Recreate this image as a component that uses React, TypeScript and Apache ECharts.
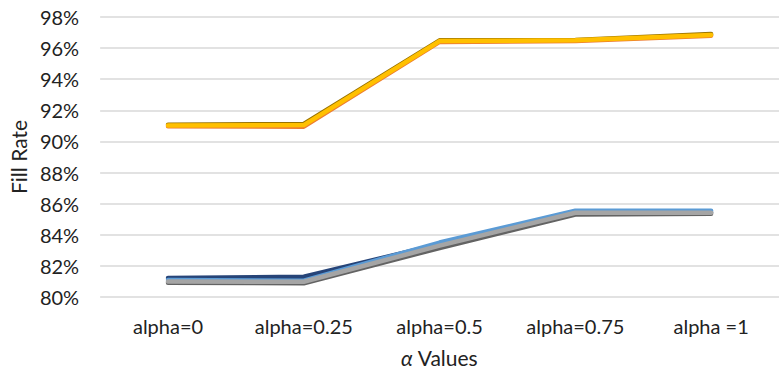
import React, { useEffect, useRef } from "react";
import * as echarts from "echarts";

const categories = ["alpha=0", "alpha=0.25", "alpha=0.5", "alpha=0.75", "alpha =1"];
const yTicks = [80, 82, 84, 86, 88, 90, 92, 94, 96, 98];

const darkYellowSeries = [91.08, 91.12, 96.5, 96.52, 96.9];
const orangeSeries = [90.98, 90.95, 96.4, 96.45, 96.8];
const yellowSeries = [91.03, 91.05, 96.45, 96.5, 96.85];

const darkBlueSeries = [81.22, 81.3, 83.4, 85.5, 85.45];
const lightBlueSeries = [81.1, 81.05, 83.5, 85.55, 85.55];
const darkGraySeries = [80.92, 80.88, 83.15, 85.3, 85.35];
const graySeries = [81.0, 80.98, 83.3, 85.42, 85.42];

const FONT = "Lato, 'Noto Sans', sans-serif";

export default function App() {
  const ref = useRef<HTMLDivElement>(null);
  useEffect(() => {
    if (!ref.current) return;
    const chart = echarts.init(ref.current, undefined, { renderer: "svg" });
    const mk = (name: string, data: number[], color: string, width: number) => ({
      name,
      type: "line",
      data,
      symbol: "none",
      lineStyle: { color, width, cap: "round", join: "round" },
      itemStyle: { color },
      z: 2,
    });
    chart.setOption({
      animation: false,
      backgroundColor: "#ffffff",
      grid: { left: 92, right: 0, top: 17, bottom: 77 },
      xAxis: {
        type: "category",
        data: categories,
        boundaryGap: true,
        axisLine: { show: false },
        axisTick: { show: false },
        axisLabel: { color: "#222", fontSize: 20, fontFamily: FONT, margin: 19 },
        name: "{a|α} Values",
        nameLocation: "middle",
        nameGap: 50,
        nameTextStyle: {
          color: "#222",
          fontSize: 21,
          fontFamily: FONT,
          rich: {
            a: { fontStyle: "italic", fontSize: 21, fontFamily: FONT, color: "#222" },
          },
        },
      },
      yAxis: {
        type: "value",
        min: yTicks[0],
        max: yTicks[yTicks.length - 1],
        interval: 2,
        axisLine: { show: false },
        axisTick: { show: false },
        axisLabel: {
          color: "#222",
          fontSize: 20,
          fontFamily: FONT,
          margin: 21,
          formatter: "{value}%",
        },
        splitLine: { lineStyle: { color: "#d9d9d9", width: 1.5 } },
        name: "Fill Rate",
        nameLocation: "middle",
        nameGap: 56,
        nameTextStyle: { color: "#222", fontSize: 21, fontFamily: FONT },
      },
      series: [
        mk("Dark Yellow", darkYellowSeries, "#997300", 4.5),
        mk("Orange", orangeSeries, "#ED7D31", 4.5),
        mk("Yellow", yellowSeries, "#FFC000", 4.5),
        mk("Dark Blue", darkBlueSeries, "#264478", 4.5),
        mk("Light Blue", lightBlueSeries, "#5B9BD5", 4.5),
        mk("Dark Gray", darkGraySeries, "#636363", 4.5),
        mk("Gray", graySeries, "#A5A5A5", 4.5),
      ],
    });
    return () => chart.dispose();
  }, []);
  return (
    <div
      ref={ref}
      style={{ position: "absolute", left: 0, top: 0, width: 779, height: 374 }}
    />
  );
}
